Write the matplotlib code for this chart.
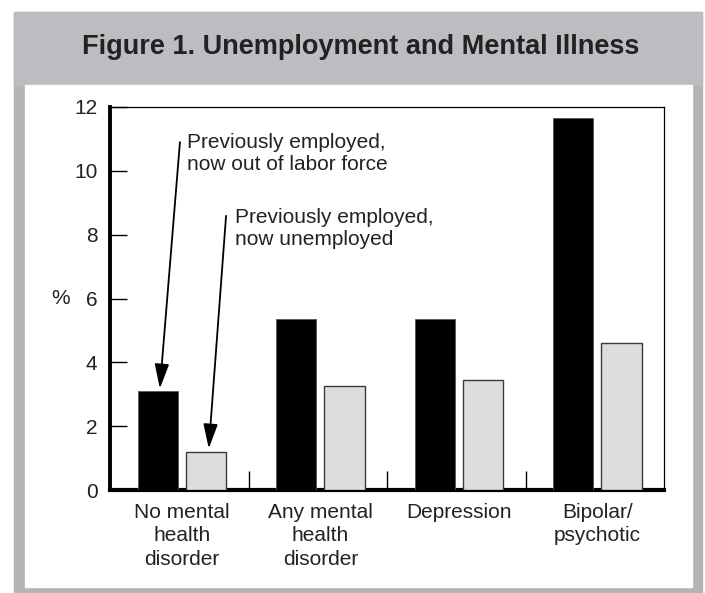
import numpy as np
import matplotlib.pyplot as plt
from matplotlib.patches import Rectangle

# Datos
categorias = ['No mental\nhealth\ndisorder', 'Any mental\nhealth\ndisorder',
              'Depression', 'Bipolar/\npsychotic']
fuera_fuerza = [3.1, 5.36, 5.36, 11.67]    # previamente empleado, fuera de la fuerza laboral
desempleado = [1.18, 3.27, 3.45, 4.62]     # previamente empleado, ahora desempleado
ticks_y = [0, 2, 4, 6, 8, 10, 12]

titulo = 'Figure 1. Unemployment and Mental Illness'
nota_1 = 'Previously employed,\nnow out of labor force'
nota_2 = 'Previously employed,\nnow unemployed'

plt.rcParams['font.family'] = ['Liberation Sans', 'DejaVu Sans']

W, H = 705, 593
fig = plt.figure(figsize=(W / 100, H / 100), dpi=100)
fig.patch.set_facecolor('white')

# Marco gris, banda del titulo y panel blanco
fig.patches.append(Rectangle((14 / W, 1 - 593 / H), 688 / W, 581 / H,
                             transform=fig.transFigure, color='#b4b4b4', zorder=-10))
fig.patches.append(Rectangle((14 / W, 1 - 85 / H), 688 / W, 73 / H,
                             transform=fig.transFigure, color='#bcbdc0', zorder=-10))
fig.patches.append(Rectangle((25 / W, 1 - 587 / H), 667 / W, 502 / H,
                             transform=fig.transFigure, color='white', zorder=-9))

fig.text(361 / W, 1 - 47 / H, titulo, ha='center', va='center',
         fontsize=19.5, fontweight='bold', color='#222222')

ax = fig.add_axes([110 / W, 1 - 490 / H, 554 / W, 383 / H])
ax.set_zorder(5)
ax.set_facecolor('white')

x = np.arange(len(categorias))
ancho = 0.29
x_negro = x + 0.2 + ancho / 2
x_gris = x + 0.548 + ancho / 2

ax.bar(x_negro, fuera_fuerza, ancho, color='black', edgecolor='#555555', linewidth=0.6, zorder=3)
ax.bar(x_gris, desempleado, ancho, color='#dcdddf', edgecolor='#3a3a3a', linewidth=1.0, zorder=3)

ax.set_xlim(0, 4)
ax.set_ylim(0, 12)

ax.set_yticks(ticks_y)
ax.tick_params(axis='y', direction='in', length=12, width=1, pad=9,
               labelsize=15, labelcolor='#222222')

# separadores entre grupos
ax.set_xticks([1, 2, 3])
ax.set_xticklabels([])
ax.tick_params(axis='x', which='major', direction='in', length=14, width=1)
ax.set_xticks(x + 0.52, categorias, minor=True)
ax.tick_params(axis='x', which='minor', length=0, pad=9, labelsize=15, labelcolor='#222222')
for t in ax.get_xticklabels(minor=True):
    t.set_linespacing(1.33)

ax.spines['left'].set_linewidth(2.8)
ax.spines['bottom'].set_linewidth(3.0)
ax.spines['top'].set_linewidth(0.9)
ax.spines['right'].set_linewidth(0.9)

ax.text(-0.36, 6, '%', ha='center', va='center', fontsize=15, color='#222222')

flecha = dict(arrowstyle='-|>,head_length=0.75,head_width=0.22', color='black',
              lw=1.3, mutation_scale=20, shrinkA=0, shrinkB=0)
ax.annotate('', xy=(x_negro[0] + 0.015, fuera_fuerza[0] + 0.08), xytext=(0.505, 10.9),
            arrowprops=flecha, zorder=5)
ax.annotate('', xy=(x_gris[0] + 0.02, desempleado[0] + 0.12), xytext=(0.838, 8.59),
            arrowprops=flecha, zorder=5)
ax.text(0.556, 10.55, nota_1, ha='left', va='center', fontsize=15, color='#222222', linespacing=1.2)
ax.text(0.903, 8.2, nota_2, ha='left', va='center', fontsize=15, color='#222222', linespacing=1.2)

fig.savefig('out.png', dpi=100, facecolor=fig.get_facecolor())
